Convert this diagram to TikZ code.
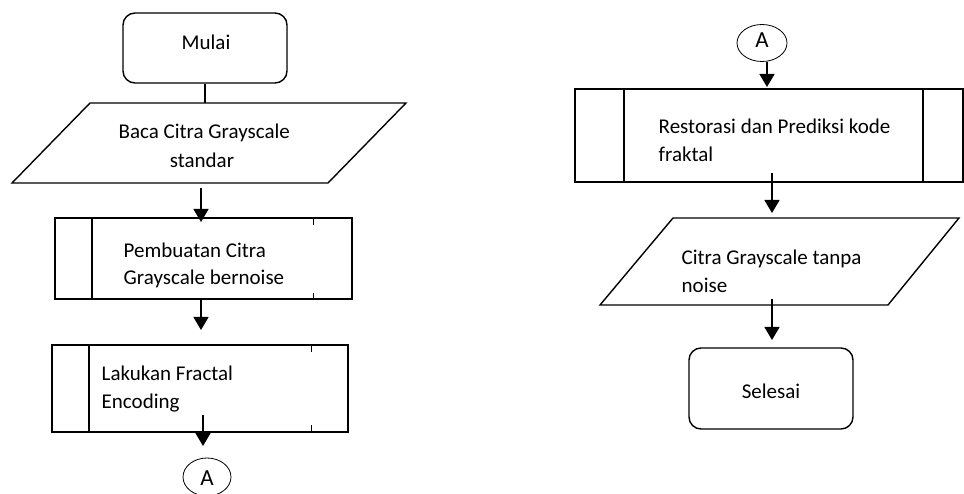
\documentclass[tikz,border=0pt]{standalone}
\usepackage{fontspec}
\setmainfont{Carlito}
\usetikzlibrary{arrows.meta,shapes.geometric}
\begin{document}
\begin{tikzpicture}[x=1pt,y=-1pt,
  line width=1.4pt,
  txt/.style={inner sep=0pt,font=\fontsize{21}{26}\selectfont},
  term/.style={draw,rounded corners=12pt,inner sep=0pt},
  proc/.style={draw,inner sep=0pt},
  conn/.style={draw,ellipse,line width=0.8pt,inner sep=0pt},
  arr/.style={-{Triangle[width=15pt,length=13pt]}},
]
\useasboundingbox (0,0) rectangle (964,494);

% ---------- left column ----------
\node[term,minimum width=164pt,minimum height=70pt] (mulai) at (205,48) {};
\node[txt,anchor=base] (tmulai) at (206,50) {Mulai};

\draw (90,103) coordinate (bacaTL) -- (406,103) -- (328,183) -- (12,183) coordinate (bacaBL) -- cycle;
\coordinate (bacaN) at (205,103);
\coordinate (bacaS) at (201,188);
\node[txt,anchor=base west] (baca1) at (118,139) {Baca Citra Grayscale};
\node[txt,anchor=base] (baca2) at (202,168) {standar};

\node[proc,minimum width=297pt,minimum height=81pt] (buat) at (203.5,258.5) {};
\draw (92,218) -- (92,299);
\draw[line width=1pt] (313,218) -- (313,225) (313,293) -- (313,299);
\node[txt,anchor=base west] (buat1) at (123,258) {Pembuatan Citra};
\node[txt,anchor=base west] (buat2) at (123,285) {Grayscale bernoise};
\coordinate (buatN) at (201,222);
\coordinate (buatS) at (201,299);

\node[proc,minimum width=296pt,minimum height=87pt] (enc) at (200,388.5) {};
\draw (89,345) -- (89,432);
\draw[line width=1pt] (311,345) -- (311,352) (311,425) -- (311,432);
\node[txt,anchor=base west] (enc1) at (101,380) {Lakukan Fractal};
\node[txt,anchor=base west] (enc2) at (101,408) {Encoding};
\coordinate (encN) at (201,330);
\coordinate (encS) at (203,415);

\node[conn,minimum width=48pt,minimum height=38pt] (a1) at (207,477) {};
\node[txt,anchor=base,font=\fontsize{23}{26}\selectfont] (ta1) at (207,485) {A};
\coordinate (a1N) at (203,446);

\draw (mulai.south) -- (bacaN);
\draw[arr] (bacaS) -- (buatN);
\draw[arr] (buatS) -- (encN);
\draw[arr] (encS) -- (a1N);

% ---------- right column ----------
\node[conn,minimum width=50pt,minimum height=37pt] (a2) at (762,43) {};
\node[txt,anchor=base,font=\fontsize{23}{26}\selectfont] (ta2) at (762,48) {A};
\coordinate (a2S) at (767,62);

\node[proc,minimum width=388pt,minimum height=93pt] (rest) at (769,135.5) {};
\draw (624,89) -- (624,182);
\draw (923,89) -- (923,182);
\node[txt,anchor=base west] (rest1) at (658,134) {Restorasi dan Prediksi kode};
\node[txt,anchor=base west] (rest2) at (658,162) {fraktal};
\coordinate (restN) at (767,87);
\coordinate (restS) at (772,173);

\draw (673,218) -- (959,218) -- (888,305) -- (600,305) -- cycle;
\coordinate (citN) at (772,213);
\coordinate (citS) at (772,299);
\node[txt,anchor=base west] (cit1) at (681,265) {Citra Grayscale tanpa};
\node[txt,anchor=base west] (cit2) at (681,293) {noise};

\node[term,minimum width=164pt,minimum height=81pt] (selesai) at (771,388.5) {};
\node[txt,anchor=base] (tsel) at (771,398) {Selesai};
\coordinate (selN) at (772,340);

\draw[arr] (a2S) -- (restN);
\draw[arr] (restS) -- (citN);
\draw[arr] (citS) -- (selN);
\end{tikzpicture}
\end{document}
